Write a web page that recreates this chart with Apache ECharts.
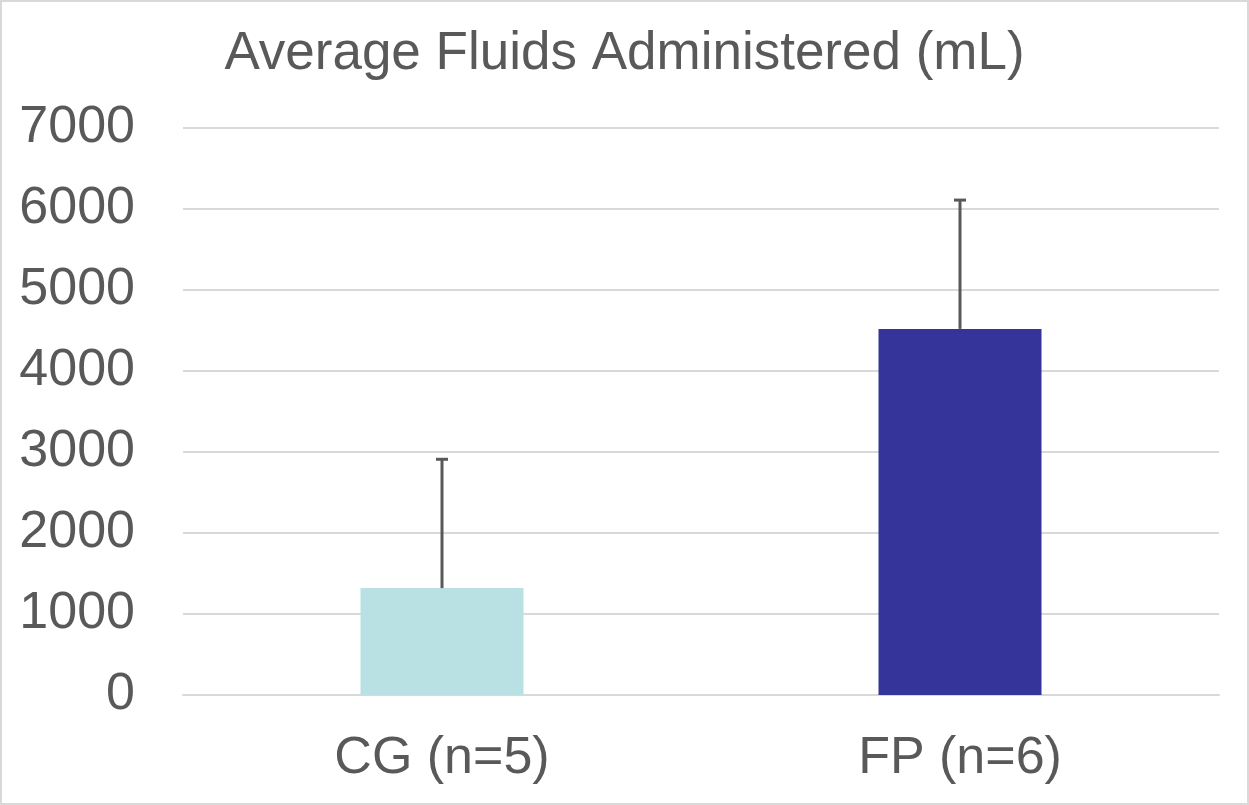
<!DOCTYPE html>
<html>
<head>
<meta charset="utf-8">
<script src="https://cdn.jsdelivr.net/npm/echarts@6/dist/echarts.min.js"></script>
<style>
  html, body { margin: 0; padding: 0; background: #fff; }
</style>
</head>
<body>
<div id="chart" style="width: 1249px; height: 805px;"></div>
<script>
// data
const categories = ['CG (n=5)', 'FP (n=6)'];
const means = [1320, 4520];
const errors = [1590, 1590];
const barColors = ['#b9e0e3', '#35349a'];
const yTicks = [0, 7000, 1000]; // min, max, step

let myChart = echarts.init(document.getElementById('chart'));

const font = '"Liberation Sans", Arial, sans-serif';
const textColor = '#595959';

myChart.setOption({
  animation: false,
  backgroundColor: '#fff',
  title: {
    text: 'Average Fluids Administered (mL)',
    left: 'center',
    top: 23,
    textStyle: {
      fontFamily: font,
      fontSize: 53,
      fontWeight: 'normal',
      color: textColor
    }
  },
  graphic: [{
    type: 'rect',
    shape: { x: 1, y: 1, width: 1247, height: 803 },
    style: { fill: 'none', stroke: '#d9d9d9', lineWidth: 2 },
    silent: true
  }],
  grid: {
    left: 183,
    right: 30,
    top: 128,
    bottom: 110
  },
  xAxis: {
    type: 'category',
    data: categories,
    axisTick: { show: false },
    axisLine: { lineStyle: { color: '#d9d9d9', width: 2 } },
    axisLabel: {
      margin: 38,
      fontFamily: font,
      fontSize: 52,
      color: textColor
    }
  },
  yAxis: {
    type: 'value',
    min: yTicks[0],
    max: yTicks[1],
    interval: yTicks[2],
    axisLine: { show: false },
    axisTick: { show: false },
    axisLabel: {
      margin: 48,
      fontFamily: font,
      fontSize: 52,
      color: textColor,
      formatter: v => String(v)
    },
    splitLine: { lineStyle: { color: '#d9d9d9', width: 2 } }
  },
  series: [
    {
      name: 'mean',
      type: 'bar',
      barWidth: 163,
      data: means.map((v, i) => ({ value: v, itemStyle: { color: barColors[i] } }))
    },
    {
      name: 'error',
      type: 'custom',
      z: 5,
      data: means.map((v, i) => [i, v, v + errors[i]]),
      renderItem: function (params, api) {
        let base = api.coord([api.value(0), api.value(1)]);
        let top = api.coord([api.value(0), api.value(2)]);
        let style = { stroke: '#595959', lineWidth: 3 };
        return {
          type: 'group',
          children: [
            { type: 'line', shape: { x1: base[0], y1: base[1], x2: top[0], y2: top[1] }, style: style },
            { type: 'line', shape: { x1: top[0] - 6, y1: top[1], x2: top[0] + 6, y2: top[1] }, style: style }
          ]
        };
      }
    }
  ]
});
</script>
</body>
</html>
